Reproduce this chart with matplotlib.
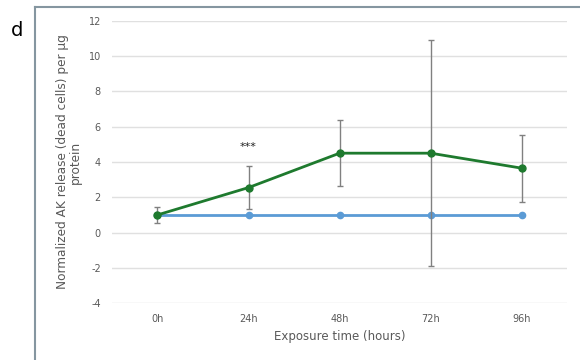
import numpy as np
import matplotlib.pyplot as plt
from matplotlib.lines import Line2D

plt.rcParams['axes.unicode_minus'] = False

labels = ["0h", "24h", "48h", "72h", "96h"]
control = [1, 1, 1, 1, 1]
treated = [1.0, 2.55, 4.5, 4.5, 3.65]
treated_err = [0.45, 1.23, 1.88, 6.42, 1.9]
yticks = [-4, -2, 0, 2, 4, 6, 8, 10, 12]

txt = "#595959"
fig = plt.figure(figsize=(5.8, 3.6), dpi=100)
ax = fig.add_axes([0.193, 0.158, 0.785, 0.784])

x = np.arange(len(labels))
ax.plot(x, control, color="#5b9bd5", lw=2, marker="o", ms=4.5, zorder=3)
ax.errorbar(x, treated, yerr=treated_err, color="#1e7a2e", lw=2, marker="o", ms=5,
            ecolor="#808080", elinewidth=1, capsize=2, capthick=1, zorder=4)
ax.text(1, 4.55, "***", ha="center", va="bottom", fontsize=8, color="#222222")

ax.set_xlim(-0.5, 4.5)
ax.set_ylim(-4, 12)
ax.set_xticks(x)
ax.set_xticklabels(labels)
ax.set_yticks(yticks)
ax.grid(axis="y", color="#e0e0e0", lw=1)
ax.set_axisbelow(True)
for s in ax.spines.values():
    s.set_visible(False)
ax.tick_params(length=0, labelsize=7, colors=txt, pad=8)
ax.set_xlabel("Exposure time (hours)", fontsize=8.5, color=txt, labelpad=4)
ax.set_ylabel("Normalized AK release (dead cells) per µg\nprotein", fontsize=8.7,
              color=txt, labelpad=5, linespacing=1.0)

# panel frame and letter
fc = "#8596a0"
fig.add_artist(Line2D([35/580, 1], [1-7/360, 1-7/360], color=fc, lw=1.5))
fig.add_artist(Line2D([35/580, 35/580], [0, 1-7/360], color=fc, lw=1.5))
fig.text(11/580, 1-31/360, "d", fontsize=14, va="center", ha="left", fontweight="medium")

fig.savefig("out.png", dpi=100)
